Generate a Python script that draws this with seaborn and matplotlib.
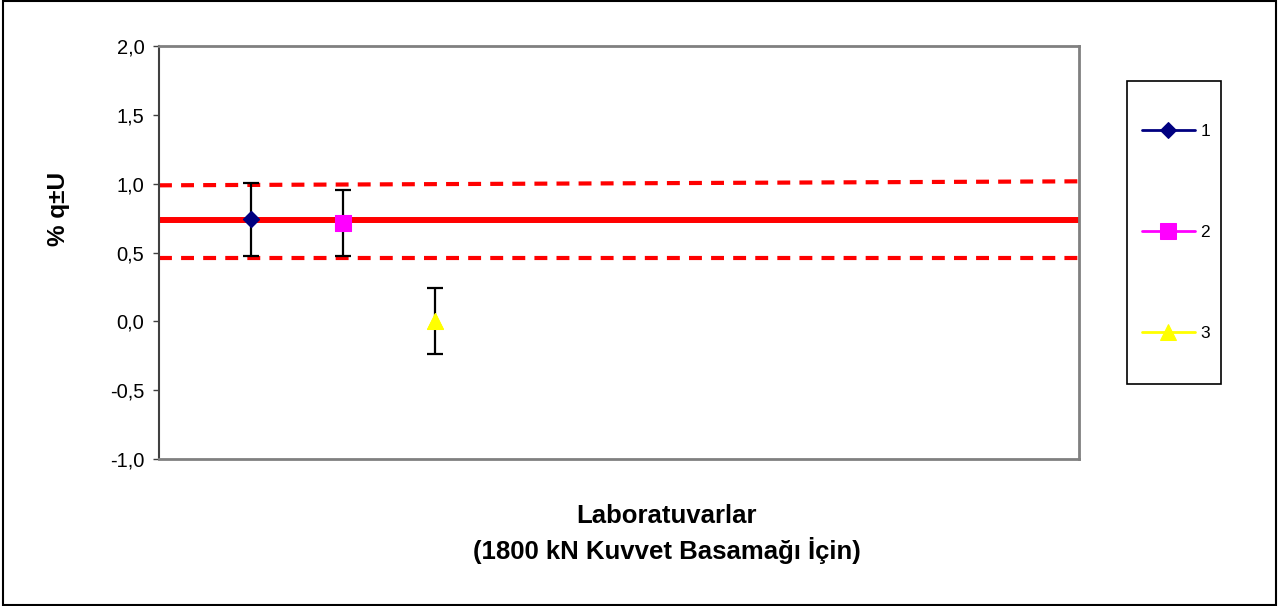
import matplotlib
matplotlib.use("Agg")
import matplotlib.pyplot as plt
import seaborn as sns
import numpy as np
from matplotlib.patches import Rectangle

# ---- data ----
labs = [1, 2, 3]
lab_names = ["1", "2", "3"]
q_values = [0.74, 0.717, 0.0]
u_values = [0.263, 0.24, 0.24]
colors = ["#000080", "#FF00FF", "#FFFF00"]
markers = ["D", "s", "^"]
marker_sizes = [8, 11.5, 12]

ref_x = [0, 10]
ref_value = [0.737, 0.737]
upper_band = [0.988, 1.017]
lower_band = [0.462, 0.462]

y_ticks = [-1.0, -0.5, 0.0, 0.5, 1.0, 1.5, 2.0]

sns.set_theme(style="white")
plt.rcParams['font.family'] = ['Liberation Sans', 'DejaVu Sans']
plt.rcParams['text.color'] = 'black'
plt.rcParams['axes.labelcolor'] = 'black'
plt.rcParams['ytick.color'] = 'black'

W, H = 1279, 606
fig = plt.figure(figsize=(W / 100, H / 100), dpi=100)
ax = fig.add_axes([159 / W, 1 - 459 / H, (1079 - 159) / W, (459 - 46) / H])

# reference lines
sns.lineplot(x=ref_x, y=ref_value, ax=ax, color="#FF0000", linewidth=4.3, legend=False, zorder=2)
sns.lineplot(x=ref_x, y=upper_band, ax=ax, color="#FF0000", linewidth=3.0,
             legend=False, zorder=2).lines[-1].set_dashes((3.1, 2.2))
sns.lineplot(x=ref_x, y=lower_band, ax=ax, color="#FF0000", linewidth=3.0,
             legend=False, zorder=2).lines[-1].set_dashes((3.1, 2.2))

# error bars and points
for x, q, u, c, m, ms, name in zip(labs, q_values, u_values, colors, markers, marker_sizes, lab_names):
    ax.errorbar([x], [q], yerr=[u], fmt="none", ecolor="black", elinewidth=1.6,
                capsize=5.5, capthick=1.6, zorder=3)
    sns.lineplot(x=[x - 0.0001, x], y=[q, q], ax=ax, color=c, marker=m, markersize=ms,
                 markeredgecolor=c, linewidth=2, label=name, zorder=4)

ax.set_xlim(0, 10)
ax.set_ylim(-1.0, 2.0)
ax.set_xticks([])
ax.set_yticks(y_ticks)
ax.set_yticklabels([f"{v:.1f}".replace(".", ",") for v in y_ticks], fontsize=14.5)
ax.tick_params(axis="y", direction="out", length=4.3, width=1, color="#404040", pad=6.3, left=True)
for s in ["top", "right", "bottom"]:
    ax.spines[s].set_color("#808080")
    ax.spines[s].set_linewidth(2)
ax.spines["left"].set_color("#404040")
ax.spines["left"].set_linewidth(1.5)
ax.set_ylabel("% q±U", fontsize=17.5, fontweight="bold")
ax.yaxis.set_label_coords(-0.0967, 0.6065)

leg = ax.legend(loc="upper left", bbox_to_anchor=(1142 / W, 1 - 124 / H),
                bbox_transform=fig.transFigure, frameon=False, fontsize=12.5,
                handlelength=3.05, labelspacing=4.95, borderpad=0, handletextpad=0.3,
                borderaxespad=0)
fig.patches.append(Rectangle((1127 / W, 1 - 384 / H), (1221 - 1127) / W, (384 - 81) / H,
                             transform=fig.transFigure, fill=False, edgecolor="black",
                             linewidth=1.2))

fig.text(667 / W, 1 - 516 / H, "Laboratuvarlar", ha="center", va="center",
         fontsize=18.5, fontweight="bold")
fig.text(667 / W, 1 - 550 / H, "(1800 kN Kuvvet Basamağı İçin)", ha="center", va="center",
         fontsize=18.5, fontweight="bold")

fig.patches.append(Rectangle((0.002, 0.002), 0.996, 0.996, transform=fig.transFigure,
                             fill=False, edgecolor="black", linewidth=1.5))

fig.savefig("out.png", dpi=100)
